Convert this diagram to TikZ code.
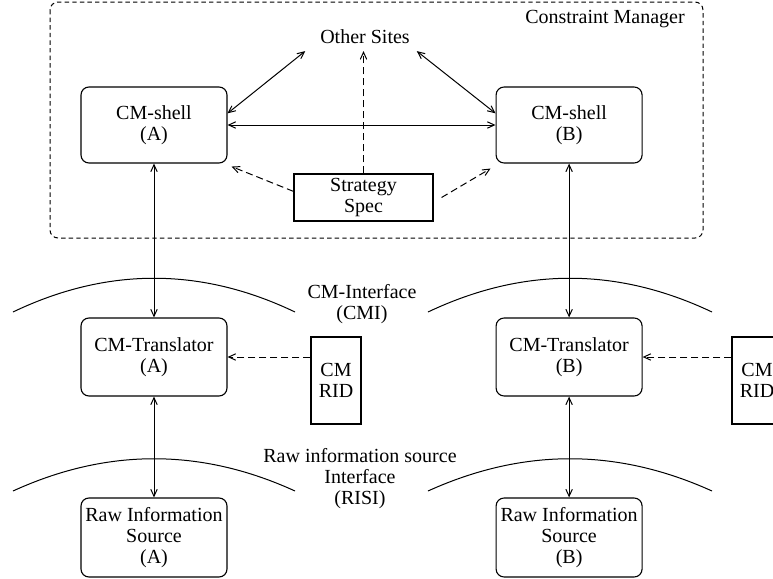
\documentclass[tikz,border=0pt]{standalone}
\usepackage{fontspec}
\setmainfont{Liberation Serif}
\usetikzlibrary{positioning,arrows.meta}

\begin{document}
\begin{tikzpicture}[x=0.5pt,y=-0.5pt,
    >={Straight Barb[length=3.5pt,width=3.2pt]},
    every node/.style={font=\rmfamily\fontsize{10}{10.5}\selectfont,align=center},
    box/.style={draw,line width=0.55pt,rounded corners=4pt,minimum width=73pt,minimum height=38pt,inner sep=1pt},
    plainbox/.style={draw,line width=0.55pt,inner sep=1pt},
    link/.style={line width=0.5pt},
    hint/.style={line width=0.5pt,dash pattern=on 3.5pt off 2pt}]
        \clip (0,0) rectangle (773,579);
        % The constraint manager frame
        \draw[line width=0.5pt,dash pattern=on 2.2pt off 1.6pt,rounded corners=4pt] (50,2) rectangle (703,238);
        \node (cmlabel) at (605,19) {Constraint Manager};
        \node (sites) at (365,37) {Other Sites};
        \node[box] (shellA) at (154,125) {CM-shell\\(A)};
        \node[box] (shellB) [right=134pt of shellA] {CM-shell\\(B)};
        \node[plainbox,minimum width=69.5pt,minimum height=23.5pt] (strat) at (363.5,197.5) {Strategy\\Spec};
        % Translators and sources
        \node[box,minimum height=39pt] (transA) at (154,357) {CM-Translator\\(A)};
        \node[box,minimum height=39pt] (transB) [right=134pt of transA] {CM-Translator\\(B)};
        \node[box,minimum height=39.5pt] (rawA) at (154,537.5) {Raw Information\\Source\\(A)};
        \node[box,minimum height=39.5pt] (rawB) [right=134pt of rawA] {Raw Information\\Source\\(B)};
        \node[plainbox,minimum width=25pt,minimum height=43.5pt] (ridA) at (336,380.5) {CM\\RID};
        \node[plainbox,minimum width=25pt,minimum height=43.5pt] (ridB) at (757,380.5) {CM\\RID};
        % The two interfaces
        \draw[link] (13,312) .. controls (107,267) and (201,267) .. (295,312);
        \draw[link] (428,312) .. controls (523,267) and (617,267) .. (712,312);
        \draw[link] (13,491) .. controls (107,448) and (201,448) .. (295,491);
        \draw[link] (428,491) .. controls (523,448) and (617,448) .. (712,491);
        \node (cmi) at (362,304) {CM-Interface\\(CMI)};
        \node (risi) at (360,479) {Raw information source\\Interface\\(RISI)};
        % Links between the shells
        \path[<->,link] (shellA) edge (shellB);
        \path[<->,link] ([xshift=-4pt]sites.south west) edge (shellA.9);
        \path[<->,link] (sites.south east) edge (shellB.171);
        % Down to the sources
        \path[<->,link] (shellA) edge (transA);
        \path[<->,link] (transA) edge (rawA);
        \path[<->,link] (shellB) edge (transB);
        \path[<->,link] (transB) edge (rawB);
        % Strategy and RID inputs
        \path[->,hint] (strat.north) edge (strat.north |- sites.south);
        \path[->,hint] (strat.175) edge ([xshift=2pt,yshift=-1.5pt]shellA.south east);
        \path[->,hint] ([xshift=4pt]strat.east) edge ([xshift=-2.5pt,yshift=-2.5pt]shellB.south west);
        \path[->,hint] (ridA.west |- transA.east) edge (transA.east);
        \path[->,hint] (ridB.west |- transB.east) edge (transB.east);
    \end{tikzpicture}
\end{document}
